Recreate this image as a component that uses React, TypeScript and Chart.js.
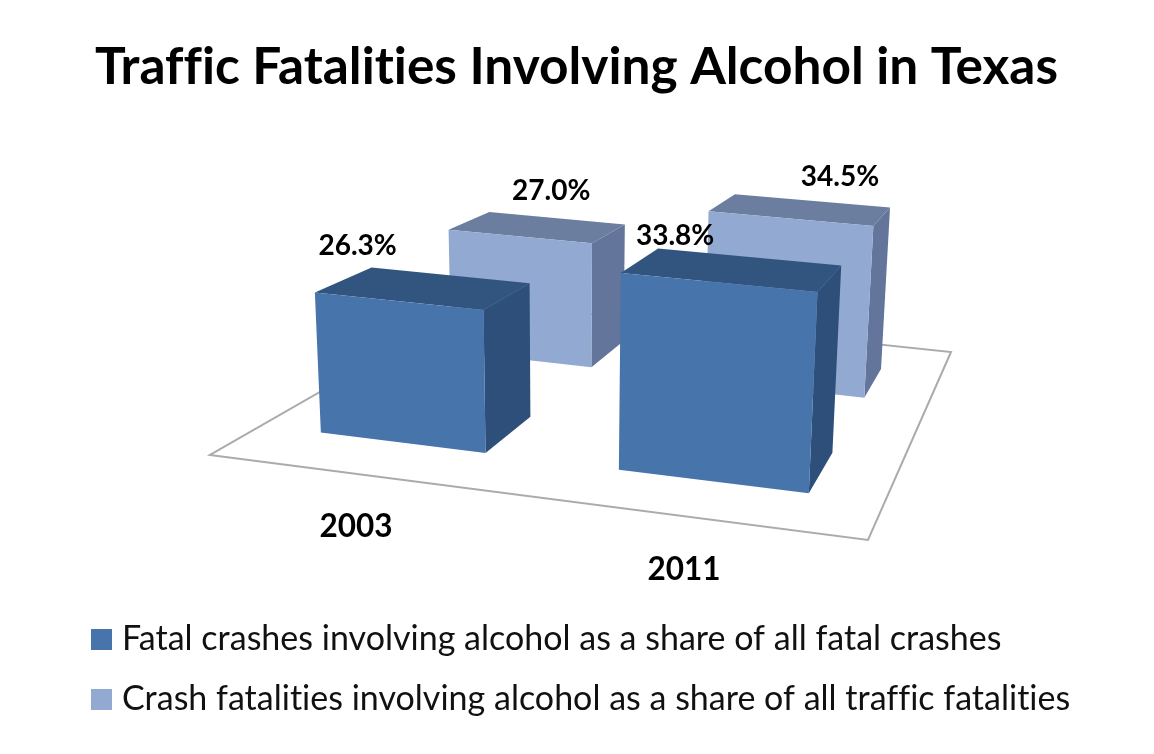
import React, { useEffect, useRef } from "react";
import { Chart, registerables } from "chart.js";

Chart.register(...registerables);

const titleText = "Traffic Fatalities Involving Alcohol in Texas";
const years = ["2003", "2011"];
const fatalCrashShare = [26.3, 33.8];
const crashFatalityShare = [27.0, 34.5];
const seriesNames = [
  "Fatal crashes involving alcohol as a share of all fatal crashes",
  "Crash fatalities involving alcohol as a share of all traffic fatalities",
];

const FONT = "Lato, 'Open Sans', sans-serif";
const faceColours = [
  { front: "#4674AB", top: "#325580", side: "#2D4F79" },
  { front: "#92A9D2", top: "#6C7EA0", side: "#63759A" },
];

// floor of the 3D box on the page and how it is viewed
const floor = [[210, 455], [868, 540], [951, 352], [477, 302]];
const rowDepth = [[0.147, 0.335], [0.64, 0.83]];
const uShift = 0.016;
const uWarp = 0.065;
const heightGain = 242;
const lean = 0.000176;
const leanCentre = 564;
const labelNudges = [
  [[-14, -22], [17, -13]],
  [[62, -21], [105, -17]],
];

function makeHomography() {
  const [[x0, y0], [x1, y1], [x2, y2], [x3, y3]] = floor;
  const sx = x0 - x1 + x2 - x3;
  const sy = y0 - y1 + y2 - y3;
  const dx1 = x1 - x2, dy1 = y1 - y2, dx2 = x3 - x2, dy2 = y3 - y2;
  const det = dx1 * dy2 - dx2 * dy1;
  const g = (sx * dy2 - dx2 * sy) / det;
  const h = (dx1 * sy - sx * dy1) / det;
  const a = x1 - x0 + g * x1, b = x3 - x0 + h * x3;
  const d = y1 - y0 + g * y1, e = y3 - y0 + h * y3;
  return (u: number, v: number, lift: number) => {
    const w = g * u + h * v + 1;
    const X = (a * u + b * v + x0) / w;
    const Y = (d * u + e * v + y0) / w;
    const rise = lift / w;
    return [X + (X - leanCentre) * lean * rise, Y - rise];
  };
}

const project = makeHomography();
const warp = (u: number) => u + uWarp * (u - 0.5) * (u - 0.5) - uShift;

function poly(ctx: CanvasRenderingContext2D, pts: number[][], fill: string) {
  ctx.beginPath();
  pts.forEach((p, i) => (i ? ctx.lineTo(p[0], p[1]) : ctx.moveTo(p[0], p[1])));
  ctx.closePath();
  ctx.fillStyle = fill;
  ctx.fill();
}

const noLigatures = (chart: any) => {
  chart.ctx.letterSpacing = "0.01px";
};

const box3d = {
  id: "box3d",
  beforeUpdate: noLigatures,
  beforeRender: noLigatures,
  beforeDatasetsDraw(chart: any) {
    const { ctx, chartArea, scales } = chart;
    const W = chartArea.right - chartArea.left;
    const H = chartArea.bottom - chartArea.top;
    ctx.save();
    ctx.beginPath();
    [[0, 0], [1, 0], [1, 1], [0, 1]].forEach(([u, v], i) => {
      const p = project(u, v, 0);
      i ? ctx.lineTo(p[0], p[1]) : ctx.moveTo(p[0], p[1]);
    });
    ctx.closePath();
    ctx.strokeStyle = "#ABABAB";
    ctx.lineWidth = 2;
    ctx.stroke();

    const labels: { text: string; x: number; y: number }[] = [];
    [1, 0].forEach((ds) => {
      const els = chart.getDatasetMeta(ds).data;
      const [v0, v1] = rowDepth[ds];
      const c = faceColours[ds];
      els.forEach((el: any, i: number) => {
        const u0 = warp((el.x - el.width / 2 - chartArea.left) / W);
        const u1 = warp((el.x + el.width / 2 - chartArea.left) / W);
        const lift = ((chartArea.bottom - el.y) / H) * heightGain;
        const fl0 = project(u0, v0, 0), fr0 = project(u1, v0, 0), br0 = project(u1, v1, 0);
        const fl1 = project(u0, v0, lift), fr1 = project(u1, v0, lift);
        const br1 = project(u1, v1, lift), bl1 = project(u0, v1, lift);
        poly(ctx, [fl1, fr1, br1, bl1], c.top);
        poly(ctx, [fr0, br0, br1, fr1], c.side);
        poly(ctx, [fl0, fr0, fr1, fl1], c.front);
        const n = labelNudges[ds][i];
        const value = chart.data.datasets[ds].data[i];
        labels.push({ text: value.toFixed(1) + "%", x: bl1[0] + n[0], y: bl1[1] + n[1] });
      });
    });

    ctx.fillStyle = "#000";
    ctx.textAlign = "center";
    ctx.textBaseline = "middle";
    ctx.font = `bold 28px ${FONT}`;
    labels.forEach((l) => ctx.fillText(l.text, l.x, l.y));

    ctx.font = `bold 31.5px ${FONT}`;
    scales.x.ticks.forEach((t: any, i: number) => {
      const u = warp((scales.x.getPixelForTick(i) - chartArea.left) / W);
      const p = project(u, 0, 0);
      ctx.fillText(t.label, p[0] - 1, p[1] + 53);
    });
    ctx.restore();
    return false;
  },
};

function swatch(colour: string) {
  const c = document.createElement("canvas");
  c.width = 21;
  c.height = 21;
  const g = c.getContext("2d")!;
  g.fillStyle = colour;
  g.fillRect(0, 0, 21, 21);
  return c;
}

export default function App() {
  const ref = useRef<HTMLCanvasElement>(null);
  useEffect(() => {
    document.body.style.margin = "0";
    document.body.style.background = "#fff";
    const chart = new Chart(ref.current!, {
      type: "bar",
      data: {
        labels: years,
        datasets: [
          { label: seriesNames[0], data: fatalCrashShare, backgroundColor: faceColours[0].front },
          { label: seriesNames[1], data: crashFatalityShare, backgroundColor: faceColours[1].front },
        ],
      },
      plugins: [box3d],
      options: {
        responsive: false,
        animation: false,
        layout: { padding: { left: 72, right: 73, top: 37, bottom: 28 } },
        datasets: { bar: { grouped: false, barPercentage: 0.57, categoryPercentage: 1 } },
        scales: {
          x: { display: false, grid: { display: false } },
          y: { display: false, min: 5, max: 40, grid: { display: false } },
        },
        plugins: {
          tooltip: { enabled: false },
          title: {
            display: true,
            text: titleText,
            color: "#000",
            font: { family: FONT, size: 51.4, weight: "bold" },
            padding: { top: 0, bottom: 20 },
          },
          legend: {
            position: "bottom",
            align: "start",
            onClick: () => {},
            labels: {
              usePointStyle: true,
              pointStyleWidth: 7,
              color: "#111",
              padding: 26,
              font: { family: FONT, size: 34 },
              generateLabels: (c: any) =>
                c.data.datasets.map((d: any, i: number) => ({
                  text: d.label,
                  pointStyle: swatch(d.backgroundColor),
                  fillStyle: d.backgroundColor,
                  strokeStyle: d.backgroundColor,
                  lineWidth: 0,
                  hidden: false,
                  datasetIndex: i,
                  fontColor: "#111",
                })),
            },
          },
        },
      },
    } as any);
    return () => chart.destroy();
  }, []);
  return <canvas ref={ref} width={1154} height={754} style={{ display: "block", width: 1154, height: 754 }} />;
}
